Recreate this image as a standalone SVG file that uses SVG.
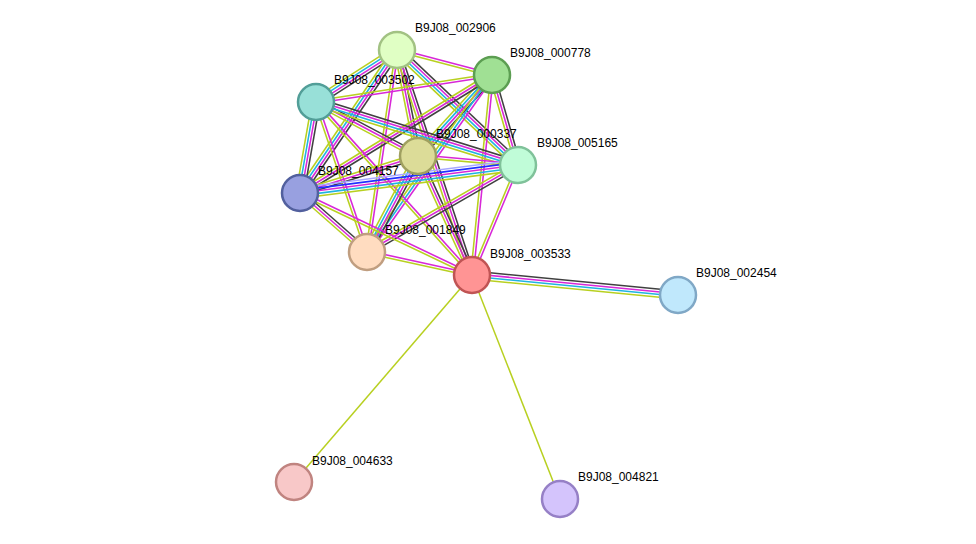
<svg xmlns="http://www.w3.org/2000/svg" width="976" height="544" viewBox="0 0 976 544">
<style>
.k{stroke:#404040}.m{stroke:#d828d8}.c{stroke:#20b4e0}.y{stroke:#b8d020}.b{stroke:#2030ff}.l{stroke:#a8a8ff}
#edges line{stroke-width:1.3;fill:none}
#edges>line{stroke-width:1.5}
.n{stroke-width:2.5}
text{font-family:"Liberation Sans",Arial,sans-serif;font-size:12px;fill:#000}
</style>
<rect width="976" height="544" fill="#fff"/>
<g id="edges">
<g transform="translate(397 50) rotate(14.74) scale(1 1.2)"><line class="m" x2="98.2" y1="-1.1" y2="-1.1"/><line class="y" x2="98.2" y1="1.1" y2="1.1"/></g>
<g transform="translate(397 50) rotate(147.3) scale(1 1.2)"><line class="k" x2="96.3" y1="-3.3" y2="-3.3"/><line class="m" x2="96.3" y1="-1.1" y2="-1.1"/><line class="c" x2="96.3" y1="1.1" y2="1.1"/><line class="y" x2="96.3" y1="3.3" y2="3.3"/></g>
<g transform="translate(397 50) rotate(78.8) scale(1 1.2)"><line class="k" x2="108.1" y1="-2.2" y2="-2.2"/><line class="m" x2="108.1"/><line class="y" x2="108.1" y1="2.2" y2="2.2"/></g>
<g transform="translate(397 50) rotate(43.5) scale(1 1.2)"><line class="k" x2="166.9" y1="-3.3" y2="-3.3"/><line class="m" x2="166.9" y1="-1.1" y2="-1.1"/><line class="c" x2="166.9" y1="1.1" y2="1.1"/><line class="y" x2="166.9" y1="3.3" y2="3.3"/></g>
<g transform="translate(397 50) rotate(124.15) scale(1 1.2)"><line class="k" x2="172.8" y1="-3.3" y2="-3.3"/><line class="m" x2="172.8" y1="-1.1" y2="-1.1"/><line class="c" x2="172.8" y1="1.1" y2="1.1"/><line class="y" x2="172.8" y1="3.3" y2="3.3"/></g>
<g transform="translate(397 50) rotate(98.45) scale(1 1.2)"><line class="m" x2="204.2" y1="-1.1" y2="-1.1"/><line class="y" x2="204.2" y1="1.1" y2="1.1"/></g>
<g transform="translate(397 50) rotate(71.57) scale(1 1.2)"><line class="k" x2="237.2" y1="-2.2" y2="-2.2"/><line class="m" x2="237.2"/><line class="y" x2="237.2" y1="2.2" y2="2.2"/></g>
<g transform="translate(492 75) rotate(171.28) scale(1 1.2)"><line class="m" x2="178.1" y1="-1.1" y2="-1.1"/><line class="y" x2="178.1" y1="1.1" y2="1.1"/></g>
<g transform="translate(492 75) rotate(132.41) scale(1 1.2)"><line class="k" x2="109.7" y1="-3.3" y2="-3.3"/><line class="m" x2="109.7" y1="-1.1" y2="-1.1"/><line class="c" x2="109.7" y1="1.1" y2="1.1"/><line class="y" x2="109.7" y1="3.3" y2="3.3"/></g>
<g transform="translate(492 75) rotate(73.89) scale(1 1.2)"><line class="k" x2="93.7" y1="-2.2" y2="-2.2"/><line class="m" x2="93.7"/><line class="y" x2="93.7" y1="2.2" y2="2.2"/></g>
<g transform="translate(492 75) rotate(148.43) scale(1 1.2)"><line class="k" x2="225.4" y1="-2.2" y2="-2.2"/><line class="m" x2="225.4"/><line class="y" x2="225.4" y1="2.2" y2="2.2"/></g>
<g transform="translate(492 75) rotate(125.23) scale(1 1.2)"><line class="m" x2="216.7" y1="-2.2" y2="-2.2"/><line class="c" x2="216.7"/><line class="y" x2="216.7" y1="2.2" y2="2.2"/></g>
<g transform="translate(492 75) rotate(95.71) scale(1 1.2)"><line class="m" x2="201" y1="-1.1" y2="-1.1"/><line class="y" x2="201" y1="1.1" y2="1.1"/></g>
<g transform="translate(316 102) rotate(27.9) scale(1 1.2)"><line class="k" x2="115.4" y1="-2.2" y2="-2.2"/><line class="m" x2="115.4"/><line class="y" x2="115.4" y1="2.2" y2="2.2"/></g>
<g transform="translate(316 102) rotate(17.32) scale(1 1.2)"><line class="k" x2="211.6" y1="-3.3" y2="-3.3"/><line class="m" x2="211.6" y1="-1.1" y2="-1.1"/><line class="c" x2="211.6" y1="1.1" y2="1.1"/><line class="y" x2="211.6" y1="3.3" y2="3.3"/></g>
<g transform="translate(316 102) rotate(99.97) scale(1 1.2)"><line class="k" x2="92.4" y1="-3.3" y2="-3.3"/><line class="m" x2="92.4" y1="-1.1" y2="-1.1"/><line class="c" x2="92.4" y1="1.1" y2="1.1"/><line class="y" x2="92.4" y1="3.3" y2="3.3"/></g>
<g transform="translate(316 102) rotate(71.22) scale(1 1.2)"><line class="m" x2="158.4" y1="-1.1" y2="-1.1"/><line class="y" x2="158.4" y1="1.1" y2="1.1"/></g>
<g transform="translate(316 102) rotate(47.96) scale(1 1.2)"><line class="m" x2="232.9" y1="-1.1" y2="-1.1"/><line class="y" x2="232.9" y1="1.1" y2="1.1"/></g>
<g transform="translate(418 156) rotate(5.14) scale(1 1.2)"><line class="m" x2="100.4" y1="-1.1" y2="-1.1"/><line class="y" x2="100.4" y1="1.1" y2="1.1"/></g>
<g transform="translate(418 156) rotate(162.59) scale(1 1.2)"><line class="k" x2="123.7" y1="-2.2" y2="-2.2"/><line class="m" x2="123.7"/><line class="y" x2="123.7" y1="2.2" y2="2.2"/></g>
<g transform="translate(418 156) rotate(117.98) scale(1 1.2)"><line class="k" x2="108.7" y1="-3.3" y2="-3.3"/><line class="m" x2="108.7" y1="-1.1" y2="-1.1"/><line class="c" x2="108.7" y1="1.1" y2="1.1"/><line class="y" x2="108.7" y1="3.3" y2="3.3"/></g>
<g transform="translate(418 156) rotate(65.59) scale(1 1.2)"><line class="k" x2="130.7" y1="-2.2" y2="-2.2"/><line class="m" x2="130.7"/><line class="y" x2="130.7" y1="2.2" y2="2.2"/></g>
<g transform="translate(518 165) rotate(172.68) scale(1 1.2)"><line class="y" x2="219.8" y1="-4.4" y2="-4.4"/><line class="c" x2="219.8" y1="-2.2" y2="-2.2"/><line class="m" x2="219.8"/><line class="b" x2="219.8" y1="2.2" y2="2.2"/><line class="l" x2="219.8" y1="4.4" y2="4.4"/></g>
<g transform="translate(518 165) rotate(150.05) scale(1 1.2)"><line class="k" x2="174.3" y1="-2.2" y2="-2.2"/><line class="m" x2="174.3"/><line class="y" x2="174.3" y1="2.2" y2="2.2"/></g>
<g transform="translate(518 165) rotate(112.7) scale(1 1.2)"><line class="m" x2="119.2" y1="-1.1" y2="-1.1"/><line class="y" x2="119.2" y1="1.1" y2="1.1"/></g>
<g transform="translate(300 193) rotate(41.37) scale(1 1.2)"><line class="k" x2="89.3" y1="-2.2" y2="-2.2"/><line class="m" x2="89.3"/><line class="y" x2="89.3" y1="2.2" y2="2.2"/></g>
<g transform="translate(300 193) rotate(25.49) scale(1 1.2)"><line class="m" x2="190.5" y1="-1.1" y2="-1.1"/><line class="y" x2="190.5" y1="1.1" y2="1.1"/></g>
<g transform="translate(367 252) rotate(12.36) scale(1 1.2)"><line class="m" x2="107.5" y1="-1.1" y2="-1.1"/><line class="y" x2="107.5" y1="1.1" y2="1.1"/></g>
<g transform="translate(472 275) rotate(5.55) scale(1 1.2)"><line class="k" x2="207" y1="-3.3" y2="-3.3"/><line class="m" x2="207" y1="-1.1" y2="-1.1"/><line class="c" x2="207" y1="1.1" y2="1.1"/><line class="y" x2="207" y1="3.3" y2="3.3"/></g>
<line class="y" x1="472" y1="275" x2="294" y2="482"/>
<line class="y" x1="472" y1="275" x2="560" y2="499"/>
</g>
<g id="B9J08_002906"><circle class="n" cx="397" cy="50" r="18" fill="#e0ffc4" stroke="#a2c283"/><text x="415" y="32">B9J08_002906</text></g>
<g id="B9J08_000778"><circle class="n" cx="492" cy="75" r="18" fill="#a0e094" stroke="#5c9e52"/><text x="510" y="57">B9J08_000778</text></g>
<g id="B9J08_003502"><circle class="n" cx="316" cy="102" r="18" fill="#98e0d8" stroke="#529e98"/><text x="334" y="84">B9J08_003502</text></g>
<g id="B9J08_000337"><circle class="n" cx="418" cy="156" r="18" fill="#dcdc98" stroke="#a0a060"/><text x="436" y="138">B9J08_000337</text></g>
<g id="B9J08_005165"><circle class="n" cx="518" cy="165" r="18" fill="#c0fcd8" stroke="#80c29a"/><text x="537" y="147">B9J08_005165</text></g>
<g id="B9J08_004157"><circle class="n" cx="300" cy="193" r="18" fill="#98a0e0" stroke="#52609e"/><text x="318" y="175">B9J08_004157</text></g>
<g id="B9J08_001849"><circle class="n" cx="367" cy="252" r="18" fill="#ffdcc0" stroke="#c09e80"/><text x="385" y="234">B9J08_001849</text></g>
<g id="B9J08_003533"><circle class="n" cx="472" cy="275" r="18" fill="#ff9494" stroke="#c05454"/><text x="490" y="258">B9J08_003533</text></g>
<g id="B9J08_002454"><circle class="n" cx="678" cy="295" r="18" fill="#c0e8fc" stroke="#80a8c6"/><text x="696" y="277">B9J08_002454</text></g>
<g id="B9J08_004633"><circle class="n" cx="294" cy="482" r="18" fill="#f8c8c8" stroke="#c08480"/><text x="312" y="465">B9J08_004633</text></g>
<g id="B9J08_004821"><circle class="n" cx="560" cy="499" r="18" fill="#d4c4fc" stroke="#9680c6"/><text x="578" y="481">B9J08_004821</text></g>
</svg>
